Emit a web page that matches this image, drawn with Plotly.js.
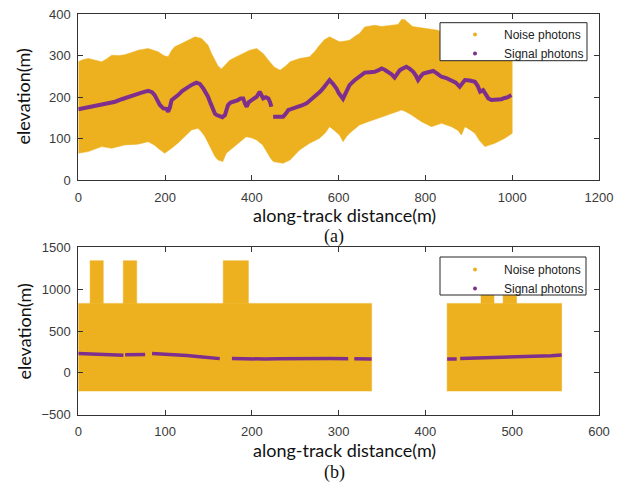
<!DOCTYPE html>
<html>
<head>
<meta charset="utf-8">
<script src="https://cdn.plot.ly/plotly-3.0.1.min.js"></script>
<style>html,body{margin:0;padding:0;background:#fff;}#chart{width:628px;height:485px;}</style>
</head>
<body>
<div id="chart"></div>
<script>
// ---------- Panel (a) ----------
// Noise photon cloud envelope (upper / lower edge), along-track distance (m) -> elevation (m)
const aNoiseUpperX = [0,10,23,40,54,65,77,95,107,125,138,161,175,184,197,207,215,222,238,253,269,284,299,307,315,322,330,340,349,360,372,385,395,411,426,441,452,465,478,488,500,510,533,545,556,567,579,590,602,615,625,640,648,660,683,699,720,737,745,752,770,800,829,850,870,900,930,960,1000];
const aNoiseUpperY = [285,290,293,288,285,292,301,300,302,308,313,317,313,309,300,297,312,321,329,337,345,341,325,305,289,275,268,280,289,295,301,307,313,317,305,285,272,265,275,285,290,293,297,310,325,338,345,340,333,335,337,348,353,369,373,370,372,375,387,387,370,365,361,345,335,330,325,320,315];
const aNoiseLowerX = [0,23,40,54,77,95,107,138,161,175,184,199,215,230,238,250,261,276,285,292,300,307,315,322,333,341,350,364,387,400,411,425,434,442,449,472,488,500,510,533,556,570,579,590,602,610,618,625,648,668,691,721,735,745,755,768,791,814,837,860,875,883,891,905,914,925,937,960,983,1000];
const aNoiseLowerY = [65,69,75,81,77,82,85,87,93,85,77,65,77,90,97,110,121,125,115,105,88,73,57,49,45,65,72,85,105,102,97,85,69,55,45,41,49,62,73,89,101,115,129,120,109,93,105,113,133,141,149,161,165,169,165,157,141,129,137,129,120,109,129,120,113,95,81,89,101,113];
// Signal photons (ground surface); null marks a gap
const aSignalX = [0,10,23,40,54,70,85,100,115,130,146,161,170,176,182,188,196,203,207,211,215,222,230,240,253,262,272,280,288,294,299,305,311,315,319,326,332,338,342,345,351,357,362,368,374,380,384,388,393,399,405,411,418,422,426,432,438,442,445,null,449,460,472,478,484,490,503,515,526,538,549,557,564,572,579,587,595,600,606,610,614,618,625,636,648,660,672,683,692,699,706,714,722,729,735,741,750,756,764,772,778,783,789,795,806,818,828,837,848,860,870,879,885,891,902,914,920,926,933,940,945,952,960,968,975,983,990,998];
const aSignalY = [171,173,176,179,181,185,189,195,201,206,211,215,212,205,195,181,173,172,165,175,193,198,205,215,225,230,235,232,221,212,201,185,169,160,157,153,152,157,172,181,187,189,190,193,197,197,185,177,188,193,197,201,213,205,197,200,197,188,177,null,153,153,153,160,169,171,175,180,185,195,205,213,221,232,241,232,221,210,201,196,205,213,229,240,249,259,260,261,265,269,266,261,255,247,257,265,270,273,268,261,252,241,250,257,260,263,256,249,246,241,235,225,235,241,240,237,228,213,217,205,197,193,193,195,195,198,200,205];
const aXTicks = [0,200,400,600,800,1000,1200];
const aYTicks = [0,100,200,300,400];

// ---------- Panel (b) ----------
const bBlockStart = [0,425];
const bBlockEnd = [338,557];
const bBlockLow = [-220,-220];
const bBlockHigh = [830,830];
const bSpikeStart = [13.6,51.8,167,464,489.5];
const bSpikeEnd = [28.8,67.3,196,479,505];
const bSpikeTop = [1340,1340,1340,1340,1340];
const bSignalX = [0,10,20,30,40,52,null,54,65,77,null,85,95,110,125,140,150,163,null,177,190,200,215,230,245,260,275,290,311,null,318,328,338,null,425,436,null,440,455,470,485,500,515,530,545,557];
const bSignalY = [230,226,222,218,214,210,null,217,217,219,null,230,226,216,206,192,180,170,null,172,168,165,165,168,171,168,168,171,169,null,168,167,165,null,165,166,null,170,174,178,182,188,194,199,205,212];
const bXTicks = [0,100,200,300,400,500,600];
const bYTicks = [-500,0,500,1000,1500];

const NOISE = '#EDB120';
const SIGNAL = '#7E2F8E';

const traces = [];
traces.push({
  x: aNoiseUpperX.concat(aNoiseLowerX.slice().reverse()),
  y: aNoiseUpperY.concat(aNoiseLowerY.slice().reverse()),
  xaxis:'x', yaxis:'y', mode:'lines', fill:'toself', fillcolor:NOISE,
  line:{width:0.5,color:NOISE}, showlegend:false, hoverinfo:'skip'
});
traces.push({x:aSignalX, y:aSignalY, xaxis:'x', yaxis:'y', mode:'lines',
  line:{color:SIGNAL,width:4}, connectgaps:false, showlegend:false, hoverinfo:'skip'});
traces.push({x:[null],y:[null],xaxis:'x',yaxis:'y',mode:'markers',marker:{color:NOISE,size:4},name:'Noise photons',legend:'legend'});
traces.push({x:[null],y:[null],xaxis:'x',yaxis:'y',mode:'markers',marker:{color:SIGNAL,size:4},name:'Signal photons',legend:'legend'});

for (let i=0;i<bBlockStart.length;i++){
  traces.push({x:[bBlockStart[i],bBlockStart[i],bBlockEnd[i],bBlockEnd[i]],
    y:[bBlockLow[i],bBlockHigh[i],bBlockHigh[i],bBlockLow[i]],
    xaxis:'x2',yaxis:'y2',mode:'lines',fill:'toself',fillcolor:NOISE,line:{width:0.5,color:NOISE},showlegend:false,hoverinfo:'skip'});
}
for (let i=0;i<bSpikeStart.length;i++){
  traces.push({x:[bSpikeStart[i],bSpikeStart[i],bSpikeEnd[i],bSpikeEnd[i]],
    y:[bBlockHigh[0]-5,bSpikeTop[i],bSpikeTop[i],bBlockHigh[0]-5],
    xaxis:'x2',yaxis:'y2',mode:'lines',fill:'toself',fillcolor:NOISE,line:{width:0.5,color:NOISE},showlegend:false,hoverinfo:'skip'});
}
traces.push({x:bSignalX, y:bSignalY, xaxis:'x2', yaxis:'y2', mode:'lines',
  line:{color:SIGNAL,width:3.5}, connectgaps:false, showlegend:false, hoverinfo:'skip'});
traces.push({x:[null],y:[null],xaxis:'x2',yaxis:'y2',mode:'markers',marker:{color:NOISE,size:4},name:'Noise photons',legend:'legend2'});
traces.push({x:[null],y:[null],xaxis:'x2',yaxis:'y2',mode:'markers',marker:{color:SIGNAL,size:4},name:'Signal photons',legend:'legend2'});

const W=628, H=485;
const px = v => v/W, py = v => 1 - v/H;
const tickFont = {family:'Liberation Sans, Arial, sans-serif', size:13, color:'#3a3a3a'};
const axBase = {showline:true, linecolor:'#333', linewidth:1, mirror:'ticks', ticks:'inside', ticklen:5,
  tickcolor:'#333', showgrid:false, zeroline:false, tickfont:tickFont};
const legBase = {bgcolor:'rgba(0,0,0,0)', borderwidth:0,
  font:{family:'Liberation Sans, Arial, sans-serif', size:12, color:'#222'}, xanchor:'left', yanchor:'top',
  tracegroupgap:0, itemwidth:48};
const titleFont = {family:'Lato, sans-serif', size:18, color:'#111'};
const capFont = {family:'Liberation Serif, Times New Roman, serif', size:18, color:'#111'};
const boxLine = {color:'#262626', width:1};

const layout = {
  width:W, height:H, margin:{l:0,r:0,t:0,b:0}, paper_bgcolor:'#fff', plot_bgcolor:'#fff',
  showlegend:true,
  xaxis: Object.assign({}, axBase, {domain:[px(78.3),px(599)], range:[0,1200], tickvals:aXTicks, anchor:'y', ticklabelstandoff:5}),
  yaxis: Object.assign({}, axBase, {domain:[py(180.3),py(14)], range:[0,400], tickvals:aYTicks, anchor:'x', ticklabelstandoff:4}),
  xaxis2: Object.assign({}, axBase, {domain:[px(78.3),px(599)], range:[0,600], tickvals:bXTicks, anchor:'y2', ticklabelstandoff:5}),
  yaxis2: Object.assign({}, axBase, {domain:[py(414.7),py(247.3)], range:[-500,1500], tickvals:bYTicks, anchor:'x2', ticklabelstandoff:4}),
  legend: Object.assign({}, legBase, {x:px(446), y:py(20)}),
  legend2: Object.assign({}, legBase, {x:px(446), y:py(255)}),
  shapes: [
    {type:'rect', xref:'paper', yref:'paper', x0:px(440), x1:px(587), y0:py(60.7), y1:py(22.7), fillcolor:'#fff', line:boxLine, layer:'above'},
    {type:'rect', xref:'paper', yref:'paper', x0:px(440), x1:px(586), y0:py(295), y1:py(257), fillcolor:'#fff', line:boxLine, layer:'above'}
  ],
  annotations: [
    {text:'elevation(m)', xref:'paper', yref:'paper', x:px(23), y:py(96.5), textangle:-90, showarrow:false, font:titleFont, xanchor:'center', yanchor:'middle'},
    {text:'elevation(m)', xref:'paper', yref:'paper', x:px(23), y:py(331.5), textangle:-90, showarrow:false, font:titleFont, xanchor:'center', yanchor:'middle'},
    {text:'along-track distance(m)', xref:'paper', yref:'paper', x:px(344), y:py(215), showarrow:false, font:titleFont, xanchor:'center', yanchor:'middle'},
    {text:'along-track distance(m)', xref:'paper', yref:'paper', x:px(344), y:py(450), showarrow:false, font:titleFont, xanchor:'center', yanchor:'middle'},
    {text:'(a)', xref:'paper', yref:'paper', x:px(334), y:py(236), showarrow:false, font:capFont, xanchor:'center', yanchor:'middle'},
    {text:'(b)', xref:'paper', yref:'paper', x:px(334), y:py(472), showarrow:false, font:capFont, xanchor:'center', yanchor:'middle'}
  ]
};

Plotly.newPlot('chart', traces, layout, {staticPlot:true, displayModeBar:false});
</script>
</body>
</html>
